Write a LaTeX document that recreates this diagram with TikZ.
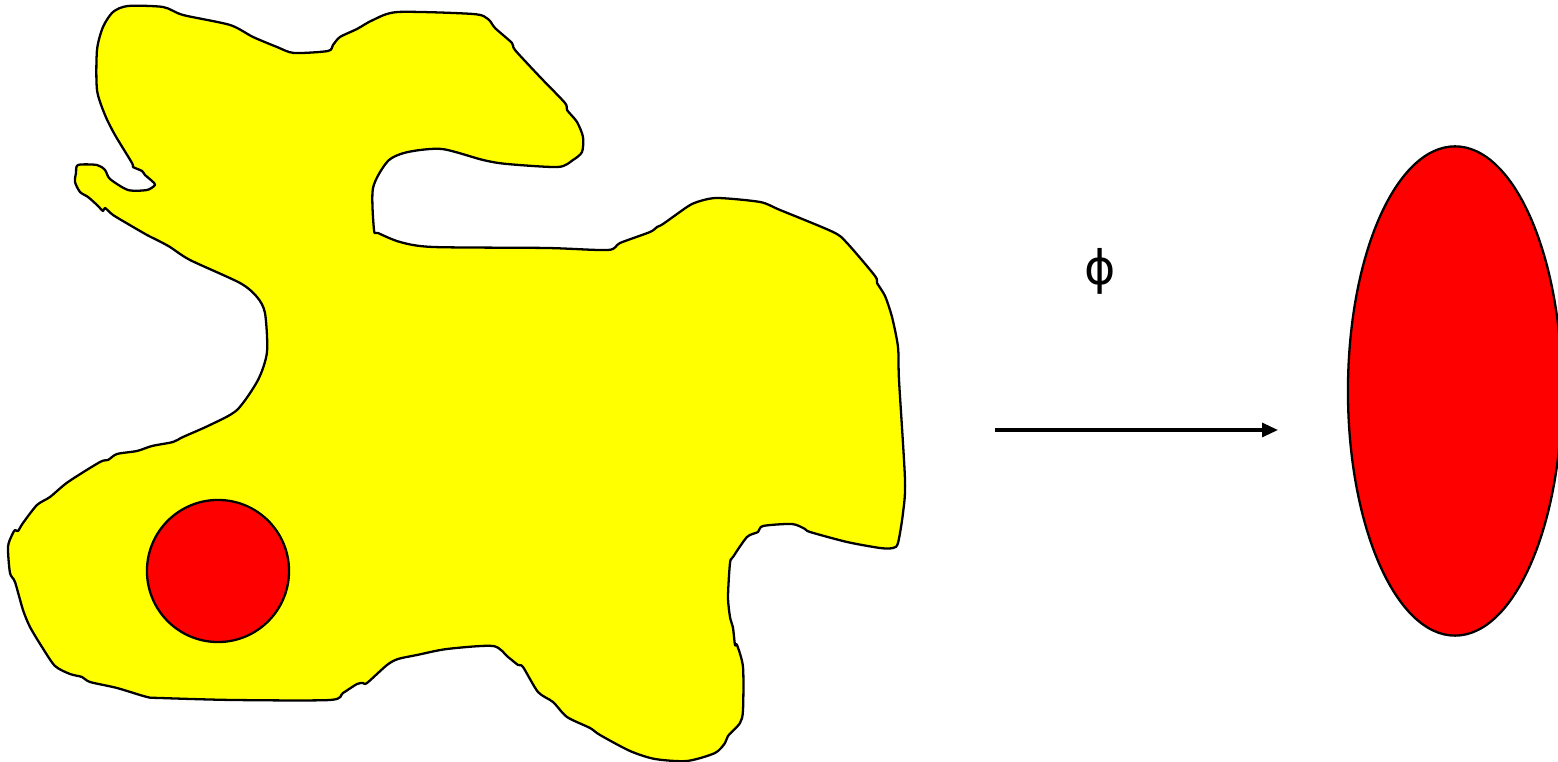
\documentclass[tikz,border=0pt]{standalone}
\usepackage{fontspec}
\newfontfamily\phifont{DejaVu Sans}
\usetikzlibrary{arrows.meta,shapes.geometric}
\definecolor{cellyellow}{RGB}{255,255,0}
\definecolor{cellred}{RGB}{255,0,0}

\begin{document}
\begin{tikzpicture}[x=0.01cm, y=-0.01cm, line width=0.65pt]
    \tikzset{blob/.style={draw, fill=cellyellow, line join=round},
             dot/.style={draw, fill=cellred, circle, minimum size=1.42cm, inner sep=0pt},
             egg/.style={draw, fill=cellred, ellipse, minimum width=2.14cm, minimum height=4.89cm, inner sep=0pt}}
    \useasboundingbox (0,0) rectangle (1558,762);
    \draw[blob] plot[smooth cycle, tension=0.45] coordinates {
      (128,6) (163,7) (183,15) (230,25) (253,37) (277,47) (294,53) (328,51) (333,45) (340,37)
      (357,29) (373,20) (398,12) (473,14) (488,19) (495,28) (512,43) (515,50) (540,77) (565,103)
      (567,110) (577,122) (583,137) (582,152) (573,160) (558,167) (507,164) (483,160) (442,149) (408,152)
      (388,161) (373,188) (374,230) (378,233) (400,242) (433,247) (547,248) (608,250) (620,243) (650,232)
      (657,227) (663,224) (687,207) (697,202) (717,198) (760,202) (780,210) (833,232) (847,243) (875,276)
      (877,283) (885,296) (892,317) (898,347) (899,380) (905,480) (903,513) (898,543) (893,548) (880,548)
      (847,542) (810,532) (805,529) (792,524) (763,526) (758,532) (747,537) (733,557) (730,563) (728,597)
      (730,617) (733,628) (735,645) (737,645) (743,667) (743,710) (740,723) (728,736) (725,743) (715,753)
      (687,761) (655,759) (630,751) (600,735) (590,728) (567,717) (553,702) (538,692) (523,667) (518,665)
      (508,657) (493,646) (447,649) (417,655) (398,659) (387,665) (367,683) (363,683) (357,684) (343,693)
      (330,700) (233,700) (160,698) (147,697) (117,688) (90,682) (82,677) (70,674) (55,666) (42,647)
      (30,627) (23,610) (15,582) (10,573) (8,547) (12,535) (15,530) (18,531) (23,523) (37,505)
      (50,497) (68,482) (100,462) (108,460) (117,454) (137,451) (152,446) (173,442) (183,437) (210,425)
      (237,410) (258,380) (267,352) (265,313) (257,297) (240,283) (190,260) (170,247) (157,240) (147,235)
      (128,224) (113,215) (105,208) (103,211) (97,205) (88,197) (80,192) (75,182) (76,173) (78,165)
      (97,165) (105,170) (110,179) (128,190) (147,190) (155,185) (152,181) (145,175) (142,171) (133,167)
      (132,163) (115,135) (105,115) (97,90) (97,50) (103,27) (113,12)};
    \node[dot] (inner) at (218,571) {};
    \node[egg] (image) at (1455,391) {};
    \node (phi) at (1100,271) {\phifont\fontsize{13.5}{16}\selectfont ϕ};
    \coordinate (src) at (995,430);
    \coordinate (dst) at (1278,430);
    \draw[-{Triangle[length=0.16cm,width=0.14cm]}, line width=0.9pt] (src) -- (dst);
\end{tikzpicture}
\end{document}
